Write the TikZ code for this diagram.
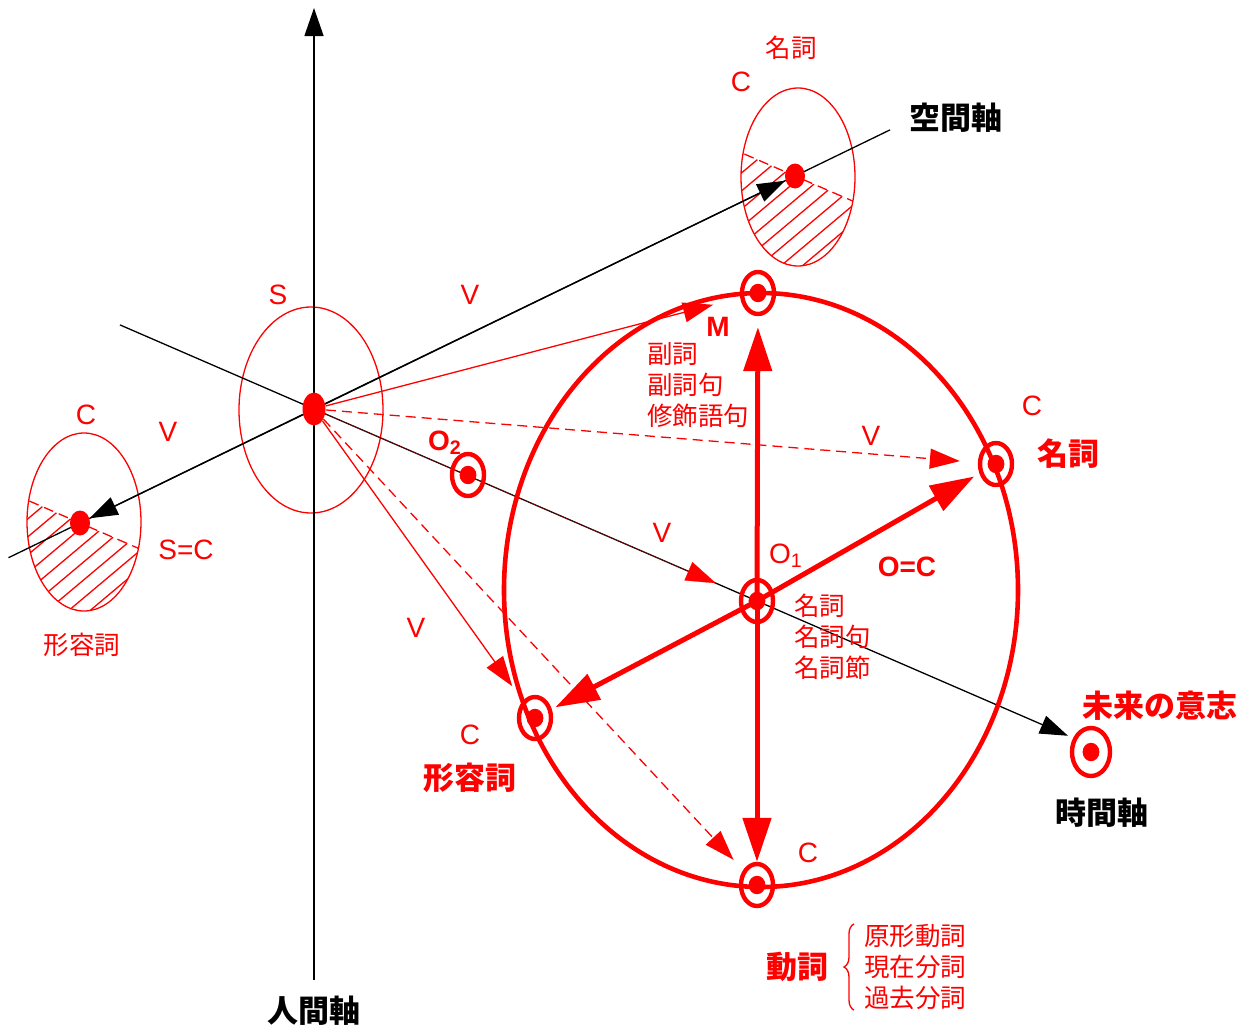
\documentclass[tikz,border=0pt]{standalone}
\usepackage{fontspec}
\setmainfont{Liberation Sans}
\newfontfamily\jpfont{Noto Sans CJK JP}
\usepackage{tikz}
\usetikzlibrary{
  shapes.geometric,
  arrows.meta,
  positioning,
  calc,
  backgrounds,
  decorations.pathreplacing
}
\definecolor{axiscolor}{RGB}{0, 0, 0}
\definecolor{markcolor}{RGB}{255, 0, 0}
\tikzset{
latinlabel/.style={
  text=markcolor,
  font=\fontsize{14pt}{16pt}\selectfont,
  inner sep=0pt
},
latinbold/.style={
  latinlabel,
  font=\bfseries\fontsize{14pt}{16pt}\selectfont
},
jplabel/.style={
  text=markcolor,
  font=\jpfont\fontsize{12.75pt}{15.5pt}\selectfont,
  inner sep=0pt,
  align=left
},
jpbold/.style={
  text=markcolor,
  font=\jpfont\bfseries\fontsize{15.5pt}{18pt}\selectfont,
  inner sep=0pt
},
axislabel/.style={
  jpbold,
  text=axiscolor
}
}

\begin{document}
\begin{tikzpicture}[
    x=0.5pt, y=-0.5pt,
    % Estilos dos marcadores
    target/.style={
        ellipse,
        draw=markcolor,
        line width=2.2pt,
        minimum width=16pt,
        minimum height=21pt,
        inner sep=0pt,
        path picture={\fill[markcolor] (path picture bounding box.center) ellipse [x radius=4.2pt, y radius=4.6pt];}
    },
    bigtarget/.style={target, minimum width=19pt, minimum height=24pt},
    origindot/.style={ellipse, fill=markcolor, minimum width=11.5pt, minimum height=16.5pt, inner sep=0pt},
    smalldot/.style={ellipse, fill=markcolor, minimum width=10pt, minimum height=12.5pt, inner sep=0pt},
    % Estilos das linhas
    axis/.style={draw=axiscolor, line width=0.65pt},
    axisarrow/.style={axis, -{Triangle[length=14pt, width=9.5pt]}},
    ring/.style={draw=markcolor, line width=0.65pt},
    bigring/.style={draw=markcolor, line width=2.3pt},
    halfline/.style={draw=markcolor, line width=0.65pt, dash pattern=on 5pt off 3pt},
    hatchline/.style={draw=markcolor, line width=0.65pt},
    vflow/.style={-{Triangle[length=15pt, width=10pt]}, draw=markcolor, line width=0.65pt},
    vflowdash/.style={vflow, dash pattern=on 5pt off 3pt},
    vhead/.style={vflow, line width=0.1pt},
    bigarrow/.style={-{Triangle[length=22pt, width=14pt]}, draw=markcolor, line width=2.5pt},
    bracestyle/.style={draw=markcolor, line width=0.65pt, decorate, decoration={brace, amplitude=5pt}},
]
\useasboundingbox (0,0) rectangle (1254,1033);

% ============================================================================
% PONTOS
% ============================================================================
\node[origindot] (s) at (314,409) {};
\node[smalldot] (cdtop) at (795,176) {};
\node[smalldot] (cdleft) at (80,523) {};

\node[target] (o1) at (757,601) {};
\coordinate (tl) at ($(o1)!1.438!(s)$);
\coordinate (tr) at ($(s)!1.702!(o1)$);
\coordinate (sl) at ($(cdtop)!1.1!(cdleft)$);
\coordinate (sr) at ($(cdleft)!1.133!(cdtop)$);
\coordinate (hbot) at (314,980);
\coordinate (htop) at (314,8);

% ============================================================================
% FUNDO: ELIPSES E EIXOS
% ============================================================================
\begin{scope}[on background layer]
    \foreach \ex/\ey/\dx/\dy in {798/177/795/176, 84/522/80/523}{
        \begin{scope}
            \clip (\ex,\ey) ellipse [x radius=57, y radius=89];
            \draw[halfline] (\dx,\dy) ++(-80,-34.7) -- ++(160,69.4);
            \clip (\dx,\dy) ++(-80,-34.7) -- ++(160,69.4) -- ++(0,150) -- ++(-160,0) -- cycle;
            \foreach \k in {-2,...,14}
                \draw[hatchline] (\dx,\dy) ++(-100,\k*18) -- ++(200,-168);
        \end{scope}
        \draw[ring] (\ex,\ey) ellipse [x radius=57, y radius=89];
    }
    \draw[ring] (311,410) ellipse [x radius=72, y radius=103];

    \draw[axisarrow] (hbot) -- (htop);
    \draw[axis] (sl) -- (sr);
    \draw[axisarrow] (tl) -- (tr);
\end{scope}

% ============================================================================
% ELIPSE PRINCIPAL E MARCADORES
% ============================================================================
\draw[bigring] (761,590) ellipse [x radius=257, y radius=297];

\node[target] (mtop) at (758,293) {};
\node[target] (mright) at (996,464) {};
\node[target] (mbot) at (757,885) {};
\node[target] (mleft) at (535,718) {};
\node[target] (o2) at (468,475) {};
\node[bigtarget] (mfut) at (1091,752) {};

% ============================================================================
% SETAS
% ============================================================================
% eixo espacial
\draw[axisarrow] (s) -- (cdtop);
\draw[axisarrow] (s) -- (cdleft);

% S -> V
\draw[vflow, shorten >=14pt] (s) -- (mtop);
\draw[vflowdash, shorten >=9pt] (s) -- (mright);
\draw[vflow, shorten >=9pt] (s) -- (mleft);
\draw[vflowdash, shorten >=7pt] (s) -- (mbot);
\draw[vhead, shorten >=13pt] (s) -- (o1);

% O1 -> C / M
\draw[bigarrow, shorten >=5.5pt] (o1.center) -- (mtop);
\draw[bigarrow] (o1.center) -- (mbot);
\draw[bigarrow, shorten >=3pt] (o1.center) -- (mright);
\draw[bigarrow, shorten >=2pt] (o1.center) -- (mleft);

% ============================================================================
% TEXTOS
% ============================================================================
\node[axislabel, below=8pt of hbot] (lhuman) {人間軸};
\node[axislabel] (lspace) at (956,118) {空間軸};
\node[axislabel] (ltime) at (1102,813) {時間軸};
\node[jpbold] (lfuture) at (1160,706) {未来の意志};

\node[jplabel] (ntop) at (791,48) {名詞};
\node[latinlabel] (ctop) at (741,82) {C};
\node[latinlabel] (ls) at (278,295) {S};
\node[latinlabel] (v1) at (470,295) {V};
\node[latinlabel] (cleft) at (86,415) {C};
\node[latinlabel] (v2) at (168,432) {V};
\node[latinlabel] (lsc) at (186,550) {S=C};
\node[jplabel] (aleft) at (82,645) {形容詞};

\node[latinbold] (lm) at (718,327) {M};
\node[jplabel, anchor=west] (advlist) at (647,385) {副詞\\副詞句\\修飾語句};
\node[latinbold] (lo2) at (445,443) {O\textsubscript{2}};
\node[latinlabel] (lo1) at (786,556) {O\textsubscript{1}};

\node[latinlabel] (v3) at (871,436) {V};
\node[latinlabel] (cright) at (1032,406) {C};
\node[jpbold] (nright) at (1068,454) {名詞};
\node[latinlabel] (v4) at (662,533) {V};
\node[latinbold] (loc) at (907,567) {O=C};
\node[jplabel, anchor=west] (nounlist) at (794,637) {名詞\\名詞句\\名詞節};

\node[latinlabel] (v5) at (416,628) {V};
\node[latinlabel] (cadj) at (470,735) {C};
\node[jpbold] (adj) at (470,778) {形容詞};
\node[latinlabel] (cbot) at (808,853) {C};

\node[jpbold] (verb) at (797,967) {動詞};
\node[jplabel, anchor=west] (verblist) at (864,967) {原形動詞\\現在分詞\\過去分詞};
\draw[bracestyle] ([xshift=-5pt]verblist.south west) -- ([xshift=-5pt]verblist.north west);

\end{tikzpicture}
\end{document}
